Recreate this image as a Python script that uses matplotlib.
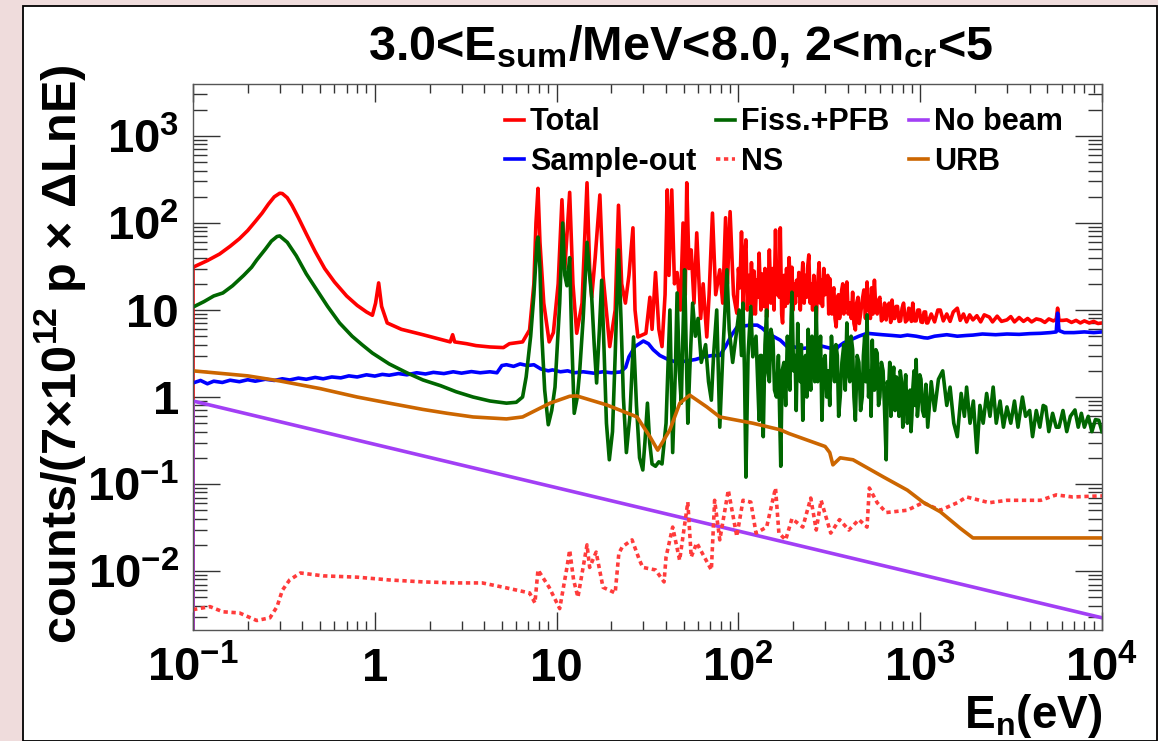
import matplotlib
matplotlib.use('Agg')
import matplotlib.pyplot as plt
from matplotlib.patches import Rectangle
from matplotlib.ticker import LogLocator, FuncFormatter, NullFormatter

# ---- data (energy in eV, counts) ----
total_e = [0.1, 0.1, 0.12, 0.14, 0.16, 0.18, 0.2, 0.22, 0.24, 0.26, 0.28, 0.30, 0.31, 0.33, 0.35, 0.38,
           0.42, 0.47, 0.53, 0.6, 0.7, 0.8, 0.9, 0.97, 1.01, 1.05, 1.09, 1.17, 1.4, 1.84, 2.3, 2.6,
           2.68, 2.75, 3.2, 3.6, 4.3, 5.1, 5.5, 6.5, 7.1, 7.5, 7.7, 7.9, 8.1, 8.5, 9.1, 9.6, 10.2, 10.7,
           11.1, 11.8, 12.3, 12.9, 13.8, 14.7, 15.2, 15.6, 16.3, 17.3, 18.0, 19.6, 21.0, 21.9, 22.8, 23.9,
           25.0, 26.3, 27.0, 28, 31, 32.6, 33.5, 35, 36.5, 38, 39.5, 40.6, 41.5, 43, 44.5, 46, 48, 49.6,
           51, 52, 53.5, 55, 57, 59, 62, 64, 67, 69, 72, 75, 79, 82, 85, 87, 90, 94,
           98, 100, 102, 104, 106, 108, 110, 112, 114, 116, 118, 120, 122, 124, 126, 128, 130, 133, 135,
           138, 140, 143, 146, 148, 151, 154, 157, 160, 163, 165, 168, 170, 173, 175, 178, 181, 184, 187,
           190, 194, 197, 200, 203, 206, 209, 212, 215, 219, 222, 226, 230, 234, 237, 240, 244, 248, 252,
           256, 260, 264, 268, 273, 278, 282, 286, 290, 295, 300, 305, 310, 314, 318, 322, 327, 331, 335,
           340, 345, 350, 355, 360, 365, 370, 375, 380, 385, 390, 395, 402, 410, 418, 425, 432, 440, 447,
           455, 462, 470, 480, 490, 500, 510, 518, 525, 532, 540, 550, 560, 570, 580, 590, 600, 612, 625,
           637, 650, 662, 675, 688, 700, 712, 725, 737, 750, 765, 780, 795, 810, 830, 850, 865, 880, 895,
           910, 930, 950, 970, 990, 1010, 1030, 1050, 1070, 1085, 1100, 1150, 1200, 1250,
           1290, 1340, 1400, 1460, 1520, 1600, 1660, 1730, 1800, 1870, 1950, 2050, 2150, 2250, 2400, 2500,
           2650, 2800, 3000, 3150, 3300, 3500, 3700, 3900, 4100, 4350, 4600, 4850, 5100, 5400, 5600, 5700,
           5800, 6100, 6400, 6800, 7200, 7600, 8000, 8500, 9000, 9500, 10000]
total_v = [0, 31, 37, 44, 54, 66, 82, 104, 130, 165, 200, 220, 218, 195, 160, 115,
           75, 47, 30, 21, 14.5, 11.3, 9.5, 8.7, 12, 20.5, 11, 7.1, 6.0, 5.2, 4.6, 4.3,
           5.2, 4.3, 4.1, 3.9, 3.76, 3.7, 4.1, 4.3, 5.9, 20, 100, 250, 60, 12, 4.3, 5.5, 20, 185,
           30, 225, 20, 5.4, 12, 290, 30, 14, 40, 210, 25, 3.8, 10, 160, 20, 12,
           25, 88, 10, 4.9, 5.4, 14, 6, 27, 6, 3.8, 15, 240, 25, 240, 20, 27, 10, 100,
           15, 290, 30, 49, 12, 77, 8, 20, 4.9, 15, 130, 15, 29, 12, 115, 20, 135, 15,
           9.2, 30, 18, 79, 12, 40, 64, 10, 25, 12, 35, 9, 28, 9, 22, 14, 45, 10, 26,
           11, 30, 8.3, 20, 49, 12, 30, 10, 83, 15, 35, 14, 88, 9, 7.1, 25, 11, 30, 12,
           40, 14, 31, 10, 20, 12, 22, 15, 27, 10, 18, 35, 12, 25, 14, 30, 43, 12, 20,
           10, 25, 13, 7.7, 20, 35, 12, 22, 11, 30, 15, 20, 25, 9, 23, 12, 9, 16, 18,
           8, 6.4, 13, 15, 8, 10, 17, 20, 9, 11, 16, 21, 9, 12, 8, 16, 7, 5.9, 12,
           14, 7, 9, 13, 17, 8, 21, 10, 12, 8, 18, 9, 22, 10, 9, 13, 14, 7.5, 8,
           12, 7.7, 11, 12, 7.2, 13, 8, 8, 11, 11, 7.4, 7.5, 10.5, 12, 7.3, 7.7, 10.5, 10, 7.4,
           12, 7.5, 7.5, 10, 10, 7.3, 7.2, 9.5, 9.5, 7.1, 7.1, 9, 7.3, 10,
           10, 7.5, 9, 7.4, 9.5, 10.5, 7.6, 9, 7.3, 8.8, 7.7, 8.6, 7.3, 8.8, 8.3, 7.3,
           8.5, 7.4, 7.7, 8.4, 7.3, 8.2, 7.4, 8.0, 7.3, 7.9, 7.7, 7.2, 7.9, 7.5, 7.8, 10.5,
           7.6, 7.6, 7.7, 7.2, 7.6, 7.1, 7.5, 7.1, 7.4, 7.0, 7.1]

sample_out_e = [0.1, 0.11, 0.12, 0.13, 0.145, 0.16, 0.18, 0.2, 0.22, 0.25, 0.28, 0.31, 0.34, 0.38, 0.42,
                0.47, 0.52, 0.58, 0.65, 0.72, 0.8, 0.9, 1.0, 1.1, 1.2, 1.35, 1.5, 1.7, 1.9, 2.1, 2.4, 2.7,
                3.0, 3.4, 3.8, 4.3, 4.7, 5.0, 5.3, 5.8, 6.3, 6.9, 7.5, 8.2, 9.0, 9.5, 10.5, 11.5, 12.5, 14,
                16, 18, 20, 22.5, 24, 25, 27, 30, 32, 34, 37, 41, 46, 52, 58, 65, 72, 79, 85, 92, 98, 105,
                115, 127, 135, 145, 155, 170, 186, 200, 220, 250, 280, 318, 330, 340, 355, 380, 420, 460,
                510, 560, 620, 700, 780, 850, 950, 1050, 1100, 1200, 1400, 1600, 1800, 1950, 2200, 2600,
                3000, 3500, 4000, 4600, 5200, 5600, 5700, 5800, 6200, 7000, 8000, 9000, 10000]
sample_out_v = [1.45, 1.55, 1.42, 1.52, 1.47, 1.56, 1.5, 1.58, 1.52, 1.6, 1.55, 1.62, 1.57, 1.65, 1.6,
                1.68, 1.62, 1.7, 1.66, 1.75, 1.7, 1.8, 1.74, 1.82, 1.78, 1.86, 1.8, 1.9, 1.84, 1.92, 1.86, 1.95,
                1.88, 1.96, 1.9, 1.95, 1.9, 2.3, 2.35, 2.25, 2.4, 2.3, 2.35, 2.1, 2.0, 2.05, 1.95, 2.0, 1.9, 1.95,
                1.88, 1.95, 1.9, 1.94, 2.2, 2.9, 3.8, 4.4, 4.1, 3.5, 3.0, 2.7, 2.5, 2.6, 2.7, 2.9, 3.0, 3.0, 3.8, 5.2, 6.3, 6.5,
                6.7, 6.7, 6.2, 5.4, 5.0, 4.5, 3.76, 3.8, 3.6, 3.7, 3.9, 3.65, 3.8, 3.4, 3.8, 4.2, 4.6, 5.0,
                5.4, 5.3, 5.2, 5.1, 5.0, 5.15, 5.0, 4.8, 4.76, 5.0, 5.2, 5.0, 5.1, 5.15, 5.3, 5.2,
                5.3, 5.25, 5.35, 5.4, 5.5, 5.6, 9.2, 5.8, 5.5, 5.5, 5.6, 5.5, 5.6]

fission_e = [0.1, 0.115, 0.13, 0.146, 0.165, 0.19, 0.21, 0.224, 0.25, 0.27, 0.29, 0.30, 0.33, 0.37, 0.42,
             0.48, 0.55, 0.64, 0.75, 0.85, 0.97, 1.2, 1.5, 1.84, 2.3, 2.8, 3.47, 4.3, 5.3, 6.0, 6.5, 6.8,
             7.2, 7.5, 7.8, 7.9, 8.1, 8.3, 8.6, 9.0, 9.4, 9.8, 10.1, 10.4, 10.8, 11.1, 11.4, 11.8, 12.1,
             12.5, 13.0, 13.4, 14.0, 14.7, 15.2, 15.6, 16.1, 16.6, 17.2, 17.7, 18.2, 18.8, 19.5, 20.3,
             21.0, 21.9, 22.6, 23.3, 24.2, 25.3, 26.5, 27.5, 28.6, 29.8, 30.6, 31.6, 32.5, 33.5, 35,
             36.5, 38, 40, 42, 43.5, 45, 46, 47.3, 48.5, 49.5, 50.6, 51.7, 52.7, 54, 56, 58, 60, 62.5,
             66, 68.5, 71, 73, 76, 77.5, 79, 82, 86.5, 89, 93, 97, 101, 104, 106, 108, 110, 113, 117,
             120, 125, 130, 132, 134, 135.5, 137, 140, 143, 145, 148, 151, 155, 158, 162, 166, 171, 174,
             178, 182, 186, 189, 192, 195, 197, 201, 205, 208, 212, 216, 219, 222, 226, 230, 234, 238,
             242, 246, 250, 254, 258, 263, 268, 273, 278, 283, 288, 294, 300, 306, 312, 318, 325, 331,
             338, 344, 350, 356, 363, 371, 380, 387, 395, 402, 410, 417, 425, 432, 440, 450, 460, 470,
             480, 487, 495, 502, 510, 520, 530, 537, 545, 552, 560, 570, 580, 590, 600, 612, 625, 637,
             650, 660, 670, 680, 690, 702, 715, 727, 740, 752, 765, 777, 790, 802, 815, 832, 850, 865,
             880, 890, 900, 912, 925, 937, 950, 965, 980, 995, 1010, 1030, 1050, 1075, 1100,
             1150, 1200, 1260, 1330, 1400, 1460, 1530,
             1600, 1680, 1750, 1800, 1880, 1960, 2050, 2130, 2220, 2320, 2420, 2520, 2620, 2750, 2870,
             3000, 3150, 3300, 3450, 3650, 3800, 4000, 4150, 4350, 4550, 4750, 4900, 5100, 5350, 5600,
             5800, 6100, 6400, 6700, 7100, 7400, 7700, 8000, 8400, 8800, 9200, 9600, 10000]
fission_v = [10.8, 12.5, 14.5, 15.7, 19, 25, 31, 37.5, 50, 62, 70, 71, 60, 42, 26,
             17, 11, 7.1, 5, 4, 3.2, 2.4, 1.9, 1.57, 1.35, 1.15, 1.0, 0.9, 0.85, 0.87, 1.0, 1.7,
             5, 15, 60, 69, 30, 4.9, 1.2, 0.48, 0.7, 1.3, 4, 12, 100, 25, 19, 40, 5,
             0.65, 1.0, 2.0, 8, 60, 25, 14, 4, 1.45, 6, 22, 4, 0.5, 0.19, 0.4,
             3, 49, 8, 1, 0.23, 0.6, 4.9, 0.8, 0.2, 0.145, 0.3, 0.85, 0.3, 0.17, 0.16,
             0.18, 0.17, 0.5, 10, 0.23, 2, 15.7, 2, 0.85, 5, 29, 3, 0.5, 2, 12, 5, 8, 2.5,
             4, 1.5, 0.92, 3, 10, 2, 0.45, 3, 29, 6, 2.5, 5, 10, 3, 12, 2, 0.12, 3, 11,
             2.9, 5, 0.54, 3, 3, 1.0, 0.35, 4, 10, 2, 1.5, 6, 4.5, 1.2, 1.0, 3, 0.16, 2,
             2.5, 0.8, 5, 2, 1.2, 8, 16, 2, 3, 0.7, 7, 2, 1.5, 4, 0.54, 2, 3, 1,
             6, 2, 1.2, 5, 4, 1.5, 10.8, 1.5, 2, 5, 0.54, 2.5, 3, 1.0, 2.0, 0.8, 5, 2.5,
             1.5, 4, 3, 0.6, 1.0, 2.5, 4, 1.2, 7.1, 2, 1.5, 5, 3.5, 1.0, 0.54, 3, 2.5, 0.7,
             1.0, 3, 5, 1.5, 8.8, 1.0, 2, 0.6, 4.5, 1.5, 1.2, 3.5, 3.2, 0.8, 1.0, 2.5, 2, 0.7,
             0.19, 1.5, 1.2, 2.5, 0.6, 1.5, 2.2, 0.7, 1.7, 1.0, 0.6, 2.0, 1.5, 0.45, 0.8, 1.8, 0.5, 0.9,
             1.2, 0.4, 0.6, 1.3, 2.0, 0.8, 2.7, 0.6, 0.9, 1.8, 1.6, 0.7, 0.6, 1.4, 0.45,
             1.5, 0.7, 1.6, 2.0, 0.8, 1.3, 0.5,
             0.35, 1.1, 0.6, 1.3, 0.5, 0.9, 0.23, 0.8, 0.5, 1.1, 0.6, 1.3, 0.5, 0.9, 0.45,
             0.77, 0.5, 0.9, 0.45, 1.0, 0.6, 0.7, 0.35, 0.7, 0.45, 0.8, 0.77, 0.4, 0.65, 0.45,
             0.45, 0.7, 0.4, 0.6, 0.71, 0.45, 0.65, 0.45, 0.6, 0.4, 0.55, 0.54, 0.4]

no_beam_e = [0.1, 0.1, 10000]
no_beam_v = [0, 0.9, 0.0029]

ns_e = [0.1, 0.124, 0.146, 0.18, 0.224, 0.265, 0.29, 0.31, 0.34, 0.39, 0.52, 0.8, 1.2, 1.84, 2.8, 3.9,
        5.3, 7.1, 7.6, 7.9, 9.1, 10.4, 11.4, 11.8, 12.4, 13.1, 14.7, 15.2, 16.5, 18, 21, 22, 23, 26,
        28.6, 29.8, 35, 39, 40, 43.5, 47.5, 52.7, 55, 59, 71, 74, 79, 88, 98, 106, 117, 125, 143, 160,
        167, 182, 197, 226, 250, 268, 285, 322, 360, 405, 460, 510, 525, 580, 650, 850, 1035, 1290,
        1600, 1800, 2400, 3000, 4600, 5600, 6900, 9700, 10000]
ns_v = [0.0036, 0.0039, 0.0034, 0.0033, 0.0027, 0.0029, 0.0039, 0.0060, 0.0079, 0.0095, 0.0088, 0.0085,
        0.0079, 0.0075, 0.0073, 0.0073, 0.0064, 0.0056, 0.0043, 0.0103, 0.0065, 0.0037, 0.011, 0.0174,
        0.0079, 0.005, 0.02, 0.011, 0.0165, 0.0065, 0.0056, 0.016, 0.019, 0.0228, 0.0133, 0.011,
        0.0103, 0.0075, 0.0145, 0.032, 0.0133, 0.062, 0.0145, 0.021, 0.0103, 0.065, 0.0228, 0.085,
        0.025, 0.065, 0.062, 0.0273, 0.032, 0.09, 0.0273, 0.0228, 0.040, 0.032, 0.069, 0.0296, 0.065,
        0.0273, 0.039, 0.0296, 0.039, 0.032, 0.09, 0.061, 0.047, 0.050, 0.061, 0.050, 0.061, 0.071,
        0.061, 0.065, 0.065, 0.075, 0.071, 0.073, 0.073]

urb_e = [0.1, 0.2, 0.3, 0.5, 0.8, 1.2, 1.84, 2.5, 3.47, 5.3, 6.5, 9.2, 11.8, 12.9, 18.9, 27.7, 32.6, 36,
         42, 47.6, 54, 67, 79, 120, 170, 190, 300, 318, 331, 363, 427, 630, 850, 1035, 1290, 1660,
         1950, 10000]
urb_v = [2.0, 1.75, 1.53, 1.25, 1.0, 0.85, 0.72, 0.65, 0.59, 0.56, 0.59, 0.85, 1.02, 1.03, 0.81, 0.59,
         0.35, 0.245, 0.42, 0.85, 1.05, 0.77, 0.59, 0.50, 0.42, 0.38, 0.27, 0.23, 0.166, 0.2, 0.19,
         0.12, 0.085, 0.062, 0.048, 0.031, 0.024, 0.024]

x_tick_labels = {0.1: r'$10^{-1}$', 1: '1', 10: '10', 100: r'$10^{2}$', 1000: r'$10^{3}$', 10000: r'$10^{4}$'}
y_tick_labels = {0.01: r'$10^{-2}$', 0.1: r'$10^{-1}$', 1: '1', 10: '10', 100: r'$10^{2}$', 1000: r'$10^{3}$'}

# ---- style ----
plt.rcParams['font.family'] = ['Liberation Sans', 'DejaVu Sans']
plt.rcParams['font.weight'] = 'bold'
plt.rcParams['mathtext.fontset'] = 'custom'
plt.rcParams['mathtext.rm'] = 'Liberation Sans:bold'
plt.rcParams['mathtext.bf'] = 'Liberation Sans:bold'
plt.rcParams['mathtext.it'] = 'Liberation Sans:bold:italic'
plt.rcParams['mathtext.sf'] = 'Liberation Sans:bold'

fig = plt.figure(figsize=(11.58, 7.41), dpi=100, facecolor='#efdcdc')
fig.add_artist(Rectangle((23 / 1158, 0), (1157 - 23) / 1158, (741 - 6) / 741,
                         transform=fig.transFigure, facecolor='white',
                         edgecolor='black', linewidth=1.3, zorder=0))

ax = fig.add_axes([193 / 1158, 1 - 630 / 741, 909 / 1158, 546 / 741])
ax.set_xscale('log')
ax.set_yscale('log', nonpositive='clip')

lw = 2.6
ax.plot(total_e, total_v, color='#ff0000', lw=lw, label='Total')
ax.plot(sample_out_e, sample_out_v, color='#0000ff', lw=lw, label='Sample-out')
ax.plot(fission_e, fission_v, color='#006600', lw=lw, label='Fiss.+PFB')
ax.plot(no_beam_e, no_beam_v, color='#a23ff5', lw=lw, label='No beam')
ax.plot(ns_e, ns_v, color='#ff3b3b', lw=lw, ls=(0, (1.2, 1.0)), label='NS')
ax.plot(urb_e, urb_v, color='#cc6600', lw=lw, label='URB')

ax.set_xlim(0.1, 1e4)
ax.set_ylim(0.0021, 3960)

# ROOT-like ticks on all four sides, pointing in
ax.xaxis.set_major_locator(LogLocator(base=10, numticks=10))
ax.xaxis.set_minor_locator(LogLocator(base=10, subs=range(2, 10), numticks=20))
ax.yaxis.set_major_locator(LogLocator(base=10, numticks=10))
ax.yaxis.set_minor_locator(LogLocator(base=10, subs=range(2, 10), numticks=20))
ax.xaxis.set_major_formatter(FuncFormatter(lambda v, p: x_tick_labels.get(round(v, 6), '')))
ax.yaxis.set_major_formatter(FuncFormatter(lambda v, p: y_tick_labels.get(round(v, 6), '')))
ax.xaxis.set_minor_formatter(NullFormatter())
ax.yaxis.set_minor_formatter(NullFormatter())

ax.tick_params(axis='both', which='both', direction='in', top=True, right=True,
               colors='#333333', labelcolor='black')
ax.tick_params(axis='x', which='major', length=13, width=1.0, labelsize=34, pad=12)
ax.tick_params(axis='x', which='minor', length=6.5, width=1.0)
ax.tick_params(axis='y', which='major', length=19.5, width=1.0, labelsize=34, pad=10)
ax.tick_params(axis='y', which='minor', length=10, width=1.0)
for s in ax.spines.values():
    s.set_color('#555555')
    s.set_linewidth(1.0)

handles, labels = ax.get_legend_handles_labels()
order = [0, 1, 2, 4, 3, 5]
ax.legend([handles[i] for i in order], [labels[i] for i in order], ncol=3,
          loc='upper left', bbox_to_anchor=(0.343, 0.957), frameon=False,
          fontsize=22, handlelength=0.62, handletextpad=0.2, columnspacing=0.65,
          labelspacing=0.3, borderpad=0, borderaxespad=0)

fig.text(681 / 1158, 1 - 60 / 741, r'3.0<E$_{\mathrm{sum}}$/MeV<8.0, 2<m$_{\mathrm{cr}}$<5',
         ha='center', va='baseline', fontsize=35, fontweight='bold')
fig.text(60 / 1158, 1 - 354 / 741, r'counts/(7×10$^{12}$ p × ΔLnE)', rotation=90,
         ha='center', va='center', fontsize=35, fontweight='bold')
fig.text(1102 / 1158, 1 - 728 / 741, r'E$_{\mathrm{n}}$(eV)', ha='right', va='baseline',
         fontsize=33, fontweight='bold')

fig.savefig('out.png', dpi=100, facecolor=fig.get_facecolor())
